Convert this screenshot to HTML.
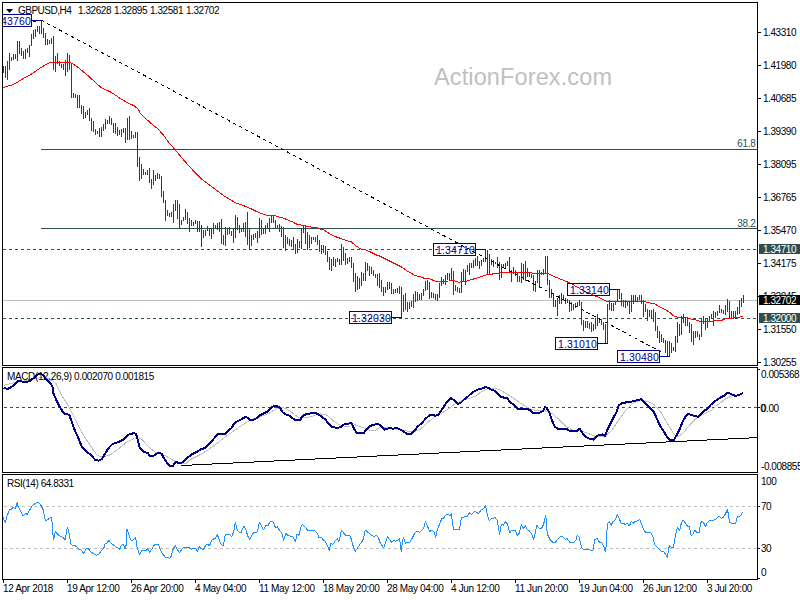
<!DOCTYPE html>
<html><head><meta charset="utf-8"><style>
html,body{margin:0;padding:0;background:#fff;width:800px;height:600px;overflow:hidden}
svg{display:block}
text{font-family:"Liberation Sans",sans-serif}
</style></head><body><svg width="800" height="600" viewBox="0 0 800 600" font-family="Liberation Sans, sans-serif"><text x="434" y="84.6" fill="#c0c0c0" font-size="23.5" letter-spacing="0.12" >ActionForex.com</text><line x1="41" y1="149.5" x2="757" y2="149.5" stroke="#2f4f4f" stroke-width="1"/><line x1="41" y1="228.5" x2="757" y2="228.5" stroke="#2f4f4f" stroke-width="1"/><line x1="3" y1="249.5" x2="757" y2="249.5" stroke="#2f4f4f" stroke-width="1" stroke-dasharray="3,3"/><line x1="3" y1="300.5" x2="757" y2="300.5" stroke="#c0c0c0" stroke-width="1"/><line x1="3" y1="318.5" x2="757" y2="318.5" stroke="#2f4f4f" stroke-width="1" stroke-dasharray="3,3"/><text x="755.5" y="146.8" fill="#2f4f4f" font-size="10" letter-spacing="-0.3" text-anchor="end" >61.8</text><text x="755.5" y="226.8" fill="#2f4f4f" font-size="10" letter-spacing="-0.3" text-anchor="end" >38.2</text><line x1="4" y1="407.5" x2="757" y2="407.5" stroke="#4a4a4a" stroke-width="1" stroke-dasharray="3,3"/><line x1="4" y1="506.5" x2="757" y2="506.5" stroke="#c0c0c0" stroke-width="1" stroke-dasharray="3,3"/><line x1="4" y1="548.5" x2="757" y2="548.5" stroke="#c0c0c0" stroke-width="1" stroke-dasharray="3,3"/><path d="M3.5 66V73M5.5 66V78M7.5 61V80M9.5 53V70M11.5 57V61M13.5 54V60M15.5 54V59M17.5 41V61M19.5 41V54M21.5 48V56M23.5 51V59M25.5 49V59M27.5 48V53M29.5 45V57M31.5 34V46M33.5 30V39M35.5 29V37M37.5 26V32M39.5 26V34M41.5 20V34M43.5 28V38M45.5 33V45M47.5 39V45M49.5 40V44M51.5 38V44M53.5 36V70M55.5 56V72M57.5 53V64M59.5 61V66M61.5 64V68M63.5 64V70M65.5 60V76M67.5 53V72M69.5 55V70M71.5 63V98M73.5 93V98M75.5 94V98M77.5 95V108M79.5 95V108M81.5 105V114M83.5 106V119M85.5 112V118M87.5 110V115M89.5 108V121M91.5 118V131M93.5 121V132M95.5 129V135M97.5 131V134M99.5 128V137M101.5 127V137M103.5 124V131M105.5 119V129M107.5 120V124M109.5 116V124M111.5 118V125M113.5 123V133M115.5 123V134M117.5 127V136M119.5 130V135M121.5 129V137M123.5 128V133M125.5 128V143M127.5 118V140M129.5 116V140M131.5 131V139M133.5 135V138M135.5 132V138M137.5 132V167M139.5 157V181M141.5 164V179M143.5 169V175M145.5 172V175M147.5 170V175M149.5 168V183M151.5 179V189M153.5 170V185M155.5 175V181M157.5 173V179M159.5 174V179M161.5 176V197M163.5 191V203M165.5 200V221M167.5 210V216M169.5 213V217M171.5 212V217M173.5 204V223M175.5 200V211M177.5 200V219M179.5 204V229M181.5 220V225M183.5 217V221M185.5 209V220M187.5 212V224M189.5 218V232M191.5 220V226M193.5 222V226M195.5 220V224M197.5 221V232M199.5 221V232M201.5 225V247M203.5 230V238M205.5 230V236M207.5 226V231M209.5 228V236M211.5 228V239M213.5 223V234M215.5 225V228M217.5 223V230M219.5 222V232M221.5 219V244M223.5 235V245M225.5 227V246M227.5 229V235M229.5 227V234M231.5 231V236M233.5 229V243M235.5 215V238M237.5 217V230M239.5 225V233M241.5 228V232M243.5 223V232M245.5 222V237M247.5 212V245M249.5 229V249M251.5 235V246M253.5 234V240M255.5 233V238M257.5 231V243M259.5 218V238M261.5 220V235M263.5 229V234M265.5 225V234M267.5 223V228M269.5 218V232M271.5 216V223M273.5 216V223M275.5 220V228M277.5 225V228M279.5 224V232M281.5 226V237M283.5 227V248M285.5 235V251M287.5 237V244M289.5 239V246M291.5 240V247M293.5 237V249M295.5 244V254M297.5 239V253M299.5 241V248M301.5 228V249M303.5 226V233M305.5 226V244M307.5 232V250M309.5 235V248M311.5 237V244M313.5 237V240M315.5 237V242M317.5 235V245M319.5 240V252M321.5 245V254M323.5 245V253M325.5 246V255M327.5 251V262M329.5 257V270M331.5 259V271M333.5 257V266M335.5 259V267M337.5 258V262M339.5 259V265M341.5 244V265M343.5 247V261M345.5 253V265M347.5 258V264M349.5 257V262M351.5 257V268M353.5 263V282M355.5 273V292M357.5 276V290M359.5 278V289M361.5 272V286M363.5 273V281M365.5 262V281M367.5 263V271M369.5 266V276M371.5 267V274M373.5 270V276M375.5 274V278M377.5 274V286M379.5 273V288M381.5 280V292M383.5 287V296M385.5 287V293M387.5 282V290M389.5 282V289M391.5 283V294M393.5 289V294M395.5 289V293M397.5 288V293M399.5 286V294M401.5 287V318M403.5 295V312M405.5 293V310M407.5 302V312M409.5 302V309M411.5 301V307M413.5 294V308M415.5 291V302M417.5 292V301M419.5 294V300M421.5 293V300M423.5 289V296M425.5 281V291M427.5 280V290M429.5 282V299M431.5 292V298M433.5 293V298M435.5 294V300M437.5 294V301M439.5 283V298M441.5 277V286M443.5 279V284M445.5 275V285M447.5 273V280M449.5 273V280M451.5 268V280M453.5 271V295M455.5 285V291M457.5 287V292M459.5 288V293M461.5 272V293M463.5 269V282M465.5 270V285M467.5 265V272M469.5 263V275M471.5 263V268M473.5 260V268M475.5 258V266M477.5 256V266M479.5 261V269M481.5 260V266M483.5 258V262M485.5 250V262M487.5 250V275M489.5 254V275M491.5 259V265M493.5 260V267M495.5 262V264M497.5 257V268M499.5 262V280M501.5 264V278M503.5 264V268M505.5 263V268M507.5 261V266M509.5 257V272M511.5 270V282M513.5 267V274M515.5 270V276M517.5 273V282M519.5 276V282M521.5 263V283M523.5 264V280M525.5 261V281M527.5 268V277M529.5 272V277M531.5 274V278M533.5 275V291M535.5 281V292M537.5 270V283M539.5 270V288M541.5 272V275M543.5 269V275M545.5 256V273M547.5 256V285M549.5 280V298M551.5 289V298M553.5 293V307M555.5 300V307M557.5 298V316M559.5 295V304M561.5 293V304M563.5 295V300M565.5 298V304M567.5 299V303M569.5 300V312M571.5 302V311M573.5 304V310M575.5 303V308M577.5 302V307M579.5 300V306M581.5 302V325M583.5 320V331M585.5 321V328M587.5 321V328M589.5 323V329M591.5 322V332M593.5 324V331M595.5 318V329M597.5 314V326M599.5 318V323M601.5 319V325M603.5 322V330M605.5 324V343M607.5 304V343M609.5 300V310M611.5 303V311M613.5 303V311M615.5 302V305M617.5 289V302M619.5 289V299M621.5 293V306M623.5 300V307M625.5 300V308M627.5 302V306M629.5 301V314M631.5 295V312M633.5 295V304M635.5 295V302M637.5 297V301M639.5 295V300M641.5 295V304M643.5 300V317M645.5 304V312M647.5 309V321M649.5 310V317M651.5 310V318M653.5 309V322M655.5 312V331M657.5 326V338M659.5 331V343M661.5 334V342M663.5 338V343M665.5 340V353M667.5 341V356M669.5 341V356M671.5 343V353M673.5 347V351M675.5 336V352M677.5 322V343M679.5 324V336M681.5 316V335M683.5 314V323M685.5 317V326M687.5 318V326M689.5 322V333M691.5 324V342M693.5 331V345M695.5 331V338M697.5 331V337M699.5 334V340M701.5 318V337M703.5 316V324M705.5 318V330M707.5 319V328M709.5 316V322M711.5 314V319M713.5 311V326M715.5 312V318M717.5 311V316M719.5 305V313M721.5 309V313M723.5 310V314M725.5 305V315M727.5 299V312M729.5 301V318M731.5 311V318M733.5 311V318M735.5 311V318M737.5 307V315M739.5 300V314M741.5 298V307M743.5 295V303" stroke="#104668" stroke-width="1" fill="none" shape-rendering="crispEdges"/><polyline points="3.0,87.5 11.7,85.0 17.5,82.1 23.3,78.6 32.7,73.3 40.8,67.5 50.2,62.3 60.0,62.3 70.0,62.3 76.7,66.3 88.7,76.3 95.3,82.3 101.3,87.7 110.0,91.7 115.3,95.0 120.0,98.3 128.0,103.0 134.0,105.7 138.7,109.7 140.0,112.8 149.2,121.9 158.3,129.3 163.9,135.7 168.4,142.1 174.9,149.4 184.0,160.4 193.2,170.6 202.4,179.7 213.4,188.0 224.4,196.2 235.4,202.7 242.8,205.4 246.0,206.5 251.0,208.8 256.0,211.2 261.0,213.3 266.0,215.0 271.0,215.7 274.8,215.7 279.3,217.1 283.0,217.9 287.7,220.0 292.2,221.7 296.0,223.9 302.0,225.2 306.0,226.0 312.0,227.2 317.0,227.5 320.0,229.2 324.0,230.0 330.0,234.0 335.0,236.5 341.0,238.5 346.8,240.8 351.5,242.0 356.2,246.1 362.0,249.6 365.5,249.6 369.0,251.3 376.0,254.8 380.0,256.2 387.0,259.7 394.0,263.2 402.2,267.3 406.8,270.8 415.0,275.4 419.7,276.6 424.3,278.3 429.0,278.5 435.0,281.0 441.0,281.2 449.0,281.0 452.0,280.2 455.0,281.0 459.5,282.5 461.0,281.0 467.0,281.0 472.0,279.5 475.0,278.5 480.0,277.0 485.0,275.2 490.0,274.5 495.0,273.5 500.0,273.0 505.0,272.2 510.0,272.0 515.0,272.0 530.2,272.2 532.5,273.3 547.7,273.3 553.5,276.3 559.3,278.6 565.0,280.9 571.7,283.8 583.3,290.8 592.7,294.8 599.7,297.8 606.7,301.2 610.0,301.8 616.7,301.6 620.2,301.0 626.0,302.0 635.3,301.6 640.0,301.0 644.7,301.6 651.7,303.6 654.7,303.8 659.3,306.7 665.2,309.6 669.8,312.5 674.0,316.2 678.0,317.2 686.2,317.2 690.8,318.9 696.7,320.1 699.1,321.1 712.5,321.1 721.8,320.3 726.5,318.5 735.8,317.9 740.0,317.1 743.0,316.2" fill="none" stroke="#ff0000" stroke-width="1" stroke-linejoin="round" shape-rendering="crispEdges"/><polyline points="3.5,385.4 14.0,382.8 24.5,381.0 35.0,378.4 43.8,377.5 50.8,379.3 56.0,383.6 61.3,395.0 68.3,405.5 73.6,416.0 80.6,430.0 85.8,438.8 92.8,449.3 97.0,455.0 102.0,457.2 110.8,454.6 117.8,449.3 126.5,442.3 137.0,437.0 142.3,439.7 149.3,447.6 156.3,452.8 165.0,455.4 172.0,459.8 179.1,463.3 186.1,463.3 190.0,459.8 198.8,455.4 207.5,450.2 216.3,444.0 225.0,437.0 233.8,430.9 242.5,424.8 251.3,419.5 260.0,416.9 268.8,413.4 275.8,409.0 281.0,407.3 286.0,408.5 292.0,412.5 299.0,417.8 306.0,417.8 313.0,416.0 320.0,413.9 327.0,415.2 334.0,421.3 341.0,425.7 348.0,426.5 355.0,424.8 362.0,427.4 369.0,430.0 376.0,430.0 380.0,427.5 388.8,427.4 397.5,429.2 406.3,430.9 413.3,432.1 420.3,429.2 427.3,423.0 434.3,416.9 441.3,413.4 448.3,409.0 455.3,403.8 462.3,400.3 469.3,398.2 476.3,395.9 480.3,392.4 487.3,388.9 494.3,388.0 501.3,390.6 510.0,395.9 518.8,402.0 527.5,407.6 536.3,410.8 545.0,410.8 552.1,413.4 559.1,419.5 566.1,426.5 573.1,430.4 578.8,430.4 587.5,433.2 596.3,436.7 605.0,436.2 612.0,430.0 619.0,419.5 626.0,409.9 633.0,402.9 640.0,400.6 647.1,401.2 654.1,404.7 661.1,412.5 667.0,423.0 674.0,434.4 677.5,437.0 682.8,433.5 689.8,424.8 696.8,417.8 703.8,414.3 710.8,410.8 717.8,404.7 724.8,399.4 731.8,395.9 737.0,395.4 742.3,394.1" fill="none" stroke="#c0c0c0" stroke-width="1" stroke-linejoin="round" shape-rendering="crispEdges"/><polyline points="3.5,388.0 7.9,388.9 12.3,386.3 15.8,383.6 18.4,381.0 21.0,381.0 23.6,382.4 26.3,381.9 29.8,381.0 33.3,378.4 36.8,375.4 39.4,373.7 42.9,374.9 46.4,379.3 50.8,383.6 52.5,387.1 53.4,393.3 56.0,399.4 59.5,406.4 62.2,410.8 64.8,414.3 69.2,414.6 70.9,419.5 73.6,427.4 77.1,435.3 82.3,447.6 85.8,451.1 89.3,453.7 92.8,457.2 95.4,460.0 98.5,460.7 102.0,459.0 105.5,452.8 109.0,447.6 112.5,444.0 117.8,442.3 121.3,440.6 124.8,438.8 127.4,435.3 130.0,433.9 134.4,433.2 136.2,434.4 137.9,440.6 139.7,447.6 144.0,451.9 147.5,452.8 150.2,456.3 152.8,456.3 156.3,453.7 158.9,452.8 161.5,453.7 165,460 167.5,463.5 170,466 172.5,466.5 175,463 177,461.5 178,463 180,462.5 181.5,462.8 183.5,461.3 187.5,457.5 192.5,454 197.0,451.9 200.5,449.3 204.0,448.4 207.5,445.8 211.0,442.3 214.5,437.9 218.0,433.9 221.5,434.1 224.2,434.4 227.7,430.9 231.2,428.3 234.7,423.0 239.0,420.4 242.5,418.7 245.2,416.9 247.8,417.8 250.4,420.4 253.9,419.5 257.4,417.8 260.0,415.2 263.6,413.4 267.1,411.7 270.6,408.2 274.1,405.9 277.6,406.4 280.2,408.2 282.8,412.5 286.3,414.8 288.5,415.2 292.0,417.8 295.5,420.4 299.9,420.4 302.5,416.0 306.0,414.3 310.4,413.4 314.8,412.9 317.4,413.9 320.9,416.0 325.3,419.5 328.8,423.9 332.3,426.9 336.7,427.9 340.2,427.4 342.8,424.8 347.2,423.9 350.7,423.0 352.4,424.8 354.2,429.2 356.8,432.7 360.3,433.5 363.8,433.2 365.6,430.0 369.1,426.5 373.4,424.8 377.8,423.9 380.2,425.0 382.6,427.4 384.4,429.7 387.0,429.2 388.8,428.0 392.3,428.6 397.5,428.3 399.3,429.2 402.8,430.9 406.3,433.5 411.5,433.5 414.2,430.9 417.7,426.5 422.0,423.0 425.5,418.7 429.0,415.7 431.7,414.6 435.2,415.7 437.8,415.2 440.4,411.7 443.9,406.4 447.4,401.2 450.9,398.2 454.4,400.3 457.9,403.8 460.6,402.9 464.1,399.4 467.6,396.8 471.1,393.6 474.6,391.0 478.5,389.4 482.0,388.4 485.5,387.1 488.1,387.7 490.8,389.4 494.3,390.6 496.9,392.9 500.4,396.8 503.9,397.6 507.4,398.2 510.0,402.0 513.5,404.7 517.0,408.2 519.7,409.4 522.3,408.7 526.7,408.7 530.2,410.4 533.7,413.4 537.2,413.4 540.7,412.2 543.3,410.8 545.0,406.9 546.8,408.2 549.4,412.5 552.1,420.4 554.7,426.5 557.3,428.6 562.6,428.6 566.1,428.6 569.6,430.9 573.5,431.4 577.9,430.4 579.6,428.6 581.4,431.4 584.0,435.3 587.5,437.9 591.0,439.2 593.6,439.7 596.3,436.2 598.9,435.0 602.4,434.4 605.0,435.7 607.7,429.2 611.2,422.2 613.8,416.9 616.4,412.5 618.7,405.5 621.7,403.4 626.0,402.4 630.4,402.0 634.8,400.8 639.2,399.9 640.9,398.9 643.6,401.2 647.1,405.5 650.6,409.0 654.1,412.5 657.6,420.4 660.0,425.7 663.5,430.9 667.0,437.0 670.5,440.2 674.0,439.7 676.6,435.3 679.3,430.0 682.8,421.3 686.3,415.2 688.9,413.9 691.5,415.2 695.0,416.0 698.5,416.9 701.2,413.4 704.7,410.4 707.3,409.0 710.8,404.7 714.3,401.7 717.8,399.4 721.3,397.1 724.8,395.4 727.4,392.9 730.0,393.6 732.7,394.7 735.3,395.9 738.8,395.0 743.2,392.9" fill="none" stroke="#000080" stroke-width="2" stroke-linejoin="round" shape-rendering="crispEdges"/><polyline points="2.9,517.3 5.3,522.7 7.3,515.3 9.3,510.0 11.3,509.1 13.3,507.3 15.3,508.7 17.3,502.7 18.0,506.0 20.0,510.0 23.3,516.0 25.3,513.3 27.3,514.4 29.3,510.7 32.0,506.0 35.3,503.3 38.7,502.4 41.3,506.0 43.3,510.0 45.3,520.0 47.3,520.0 50.0,518.0 51.3,517.3 52.3,524.0 53.3,540.0 54.7,535.3 55.3,531.3 57.3,534.0 60.0,536.0 62.7,537.3 65.3,540.0 67.3,527.3 68.7,530.7 70.7,544.0 72.0,545.3 74.7,545.3 77.0,547.0 79.0,549.3 81.0,550.0 83.7,553.3 85.0,550.7 87.0,548.0 89.0,549.3 91.0,552.0 93.7,553.7 96.3,555.3 98.3,554.7 100.3,552.0 102.3,549.7 103.7,548.7 105.0,544.0 107.0,543.3 109.0,540.0 110.3,542.7 113.0,544.7 115.7,546.7 117.7,548.0 119.7,549.3 121.0,546.0 123.0,544.0 125.0,548.7 126.3,544.7 127.0,529.3 128.3,532.7 130.3,539.3 132.3,540.7 135.7,537.3 137.0,547.3 139.7,554.7 141.7,550.7 145.7,550.7 147.7,548.7 149.7,552.4 152.0,548.7 154.0,545.3 156.7,544.0 158.7,544.7 160.7,550.7 162.7,554.0 165.3,557.3 168.0,557.3 169.7,558.3 171.3,556.0 172.7,550.0 175.3,545.3 177.3,549.3 179.3,552.7 181.3,550.0 184.0,547.3 186.7,547.6 188.7,547.3 191.3,549.3 193.3,548.0 196.0,548.7 197.3,552.0 199.3,546.7 201.3,548.7 203.3,550.0 206.0,544.7 207.3,544.0 209.3,546.0 212.0,540.0 214.0,538.7 215.3,538.7 217.3,534.7 219.3,540.0 221.3,544.7 223.3,546.0 225.3,534.7 227.3,534.0 229.0,534.3 231.7,536.7 233.7,532.0 235.4,522.0 237.0,529.3 239.0,532.0 241.0,532.7 243.7,526.0 245.7,528.7 247.7,536.0 249.7,539.3 251.7,535.3 253.7,532.7 256.3,532.7 257.7,530.7 259.4,522.0 261.0,525.3 263.7,530.0 265.7,525.3 267.7,526.0 270.3,521.3 273.0,522.0 275.7,528.0 277.3,526.7 279.7,530.7 281.7,532.7 283.7,540.4 285.7,533.3 287.7,535.3 290.3,536.0 292.3,536.0 293.7,538.7 295.4,542.0 297.0,534.0 299.0,535.3 300.7,528.0 302.3,524.4 305.3,527.3 307.3,530.0 310.7,530.0 314.0,530.0 316.7,532.7 319.3,538.0 321.3,537.3 323.3,540.0 325.3,541.3 327.3,545.3 329.1,550.3 331.0,542.7 332.7,544.7 335.3,540.7 337.3,538.7 338.9,541.3 340.7,534.0 341.3,530.0 343.3,532.7 346.0,535.3 349.3,535.3 350.7,537.3 352.7,544.7 355.3,551.3 358.0,547.3 360.7,543.3 362.7,540.7 364.0,536.0 365.3,530.0 367.3,532.0 369.3,533.3 371.3,535.3 374.0,536.4 376.7,535.3 378.3,537.3 380.3,543.3 383.7,548.0 385.7,542.0 387.3,536.7 389.4,539.3 391.7,542.3 393.7,540.4 395.7,541.3 397.7,540.0 399.7,538.7 400.6,548.0 401.4,551.3 402.3,542.0 403.3,537.3 405.4,543.1 407.7,542.3 409.9,542.0 412.3,538.0 415.0,532.7 417.7,531.3 419.7,532.4 421.7,530.3 423.7,528.7 425.4,521.3 427.7,526.7 429.7,531.3 432.3,530.3 434.1,532.4 435.7,537.3 437.4,529.3 439.7,524.0 441.7,518.7 443.7,518.0 445.7,515.3 447.7,514.0 449.7,516.0 451.3,513.3 452.7,524.7 453.7,530.0 456.7,529.7 459.3,530.0 461.3,518.0 463.3,517.3 466.0,516.4 467.3,516.4 469.3,512.7 471.3,514.4 474.7,511.3 476.7,512.4 478.7,513.7 481.3,509.3 483.3,508.9 485.3,505.7 486.3,508.7 487.3,515.3 489.3,520.4 492.0,518.3 495.3,517.7 497.3,520.7 498.7,528.7 499.6,534.3 500.7,526.7 501.7,524.0 503.3,525.3 505.3,521.7 507.6,524.0 508.7,528.7 509.7,532.9 511.3,530.3 515.3,530.3 517.3,535.3 519.3,533.3 521.3,524.4 523.3,528.7 525.3,525.5 527.3,529.3 529.7,531.3 531.7,534.0 533.7,539.3 535.4,532.0 537.0,525.3 539.0,528.0 541.7,528.0 543.7,524.0 545.0,518.0 545.7,515.1 546.3,520.7 546.6,529.3 547.9,535.3 550.3,540.0 553.0,542.7 555.7,542.0 558.3,538.3 561.7,536.0 563.7,537.7 565.7,539.6 567.0,538.3 569.7,542.3 573.7,542.3 575.7,540.7 577.3,535.3 579.0,536.7 581.7,548.0 583.7,549.3 588.3,549.3 590.3,550.3 593.0,550.3 594.6,540.0 597.0,538.3 599.7,542.5 602.0,542.7 604.0,546.7 605.3,552.0 606.4,544.7 606.9,531.3 608.0,522.7 609.6,522.0 611.3,525.3 612.7,522.0 615.3,519.6 617.3,514.4 619.3,518.7 621.3,524.0 623.3,523.3 625.3,524.4 627.3,523.3 629.3,526.0 631.3,521.7 633.3,523.1 635.3,521.3 638.0,520.9 639.7,519.3 641.3,523.3 642.7,527.3 645.3,532.0 648.0,532.4 650.7,532.4 652.7,536.0 654.7,544.7 656.7,546.7 658.7,548.7 661.3,551.1 663.3,551.3 665.3,554.0 667.3,557.3 668.7,548.7 669.6,545.3 671.3,547.6 673.3,548.0 674.7,539.3 676.3,531.5 677.7,527.3 679.7,530.7 681.4,522.7 683.3,520.0 685.7,523.3 687.7,526.7 689.4,526.7 691.3,536.0 693.0,534.0 695.0,530.4 697.0,532.3 699.3,532.3 700.6,523.3 701.7,521.3 703.3,522.0 705.4,526.7 707.0,523.3 709.9,520.3 712.3,520.7 714.3,519.7 716.3,518.7 718.7,516.0 721.7,518.4 723.7,516.7 725.7,513.3 727.4,509.3 728.3,514.0 729.4,522.0 731.7,523.3 735.7,523.3 736.6,518.7 738.3,516.0 740.3,516.0 742.3,512.7 743.0,512.0" fill="none" stroke="#1e90ff" stroke-width="1" stroke-linejoin="round" shape-rendering="crispEdges"/><line x1="41" y1="20.1" x2="663" y2="353" stroke="#000" stroke-width="1" stroke-dasharray="3.4,3.4" shape-rendering="crispEdges"/><rect x="33" y="21" width="3" height="1" fill="#000"/><line x1="181" y1="465.53" x2="757" y2="437.6" stroke="#000" stroke-width="1" shape-rendering="crispEdges"/><rect x="2.5" y="2.5" width="755" height="363" fill="none" stroke="#000" stroke-width="1"/><rect x="2.5" y="367.5" width="755" height="105" fill="none" stroke="#000" stroke-width="1"/><rect x="2.5" y="474.5" width="755" height="105" fill="none" stroke="#000" stroke-width="1"/><line x1="758" y1="32.5" x2="761" y2="32.5" stroke="#000" stroke-width="1"/><text x="763" y="36" fill="#000" font-size="10" letter-spacing="-0.45" text-anchor="start" >1.43310</text><line x1="758" y1="65.5" x2="761" y2="65.5" stroke="#000" stroke-width="1"/><text x="763" y="69" fill="#000" font-size="10" letter-spacing="-0.45" text-anchor="start" >1.41980</text><line x1="758" y1="98.5" x2="761" y2="98.5" stroke="#000" stroke-width="1"/><text x="763" y="102" fill="#000" font-size="10" letter-spacing="-0.45" text-anchor="start" >1.40685</text><line x1="758" y1="131.5" x2="761" y2="131.5" stroke="#000" stroke-width="1"/><text x="763" y="135" fill="#000" font-size="10" letter-spacing="-0.45" text-anchor="start" >1.39390</text><line x1="758" y1="164.5" x2="761" y2="164.5" stroke="#000" stroke-width="1"/><text x="763" y="168" fill="#000" font-size="10" letter-spacing="-0.45" text-anchor="start" >1.38095</text><line x1="758" y1="197.5" x2="761" y2="197.5" stroke="#000" stroke-width="1"/><text x="763" y="201" fill="#000" font-size="10" letter-spacing="-0.45" text-anchor="start" >1.36765</text><line x1="758" y1="230.5" x2="761" y2="230.5" stroke="#000" stroke-width="1"/><text x="763" y="234" fill="#000" font-size="10" letter-spacing="-0.45" text-anchor="start" >1.35470</text><line x1="758" y1="263.5" x2="761" y2="263.5" stroke="#000" stroke-width="1"/><text x="763" y="267" fill="#000" font-size="10" letter-spacing="-0.45" text-anchor="start" >1.34175</text><line x1="758" y1="296.5" x2="761" y2="296.5" stroke="#000" stroke-width="1"/><text x="763" y="300" fill="#000" font-size="10" letter-spacing="-0.45" text-anchor="start" >1.32845</text><line x1="758" y1="329.5" x2="761" y2="329.5" stroke="#000" stroke-width="1"/><text x="763" y="333" fill="#000" font-size="10" letter-spacing="-0.45" text-anchor="start" >1.31550</text><line x1="758" y1="362.5" x2="761" y2="362.5" stroke="#000" stroke-width="1"/><text x="763" y="366" fill="#000" font-size="10" letter-spacing="-0.45" text-anchor="start" >1.30255</text><rect x="759" y="244" width="41" height="10" fill="#2f4f4f"/><text x="763" y="253" fill="#fff" font-size="10" letter-spacing="-0.45" text-anchor="start" >1.34710</text><rect x="759" y="295" width="41" height="10" fill="#000"/><text x="763" y="304" fill="#fff" font-size="10" letter-spacing="-0.45" text-anchor="start" >1.32702</text><rect x="759" y="313" width="41" height="10" fill="#2f4f4f"/><text x="763" y="322" fill="#fff" font-size="10" letter-spacing="-0.45" text-anchor="start" >1.32000</text><line x1="758" y1="369.5" x2="760" y2="369.5" stroke="#000" stroke-width="1"/><text x="761" y="378" fill="#000" font-size="10" letter-spacing="-0.45" text-anchor="start" >0.005368</text><line x1="758" y1="407.5" x2="760" y2="407.5" stroke="#000" stroke-width="1"/><text x="761" y="411.6" fill="#000" font-size="10" letter-spacing="-0.45" text-anchor="start" >0.00</text><text x="760.3" y="411.6" fill="#000" font-size="10" letter-spacing="-0.45" text-anchor="start" >0</text><text x="761" y="469.5" fill="#000" font-size="10" letter-spacing="-0.45" text-anchor="start" >-0.008855</text><text x="761" y="485" fill="#000" font-size="10" letter-spacing="-0.45" text-anchor="start" >100</text><line x1="758" y1="506.5" x2="760" y2="506.5" stroke="#000" stroke-width="1"/><text x="761" y="510" fill="#000" font-size="10" letter-spacing="-0.45" text-anchor="start" >70</text><line x1="758" y1="548.5" x2="760" y2="548.5" stroke="#000" stroke-width="1"/><text x="761" y="552" fill="#000" font-size="10" letter-spacing="-0.45" text-anchor="start" >30</text><text x="761" y="576" fill="#000" font-size="10" letter-spacing="-0.45" text-anchor="start" >0</text><line x1="758" y1="578.5" x2="760" y2="578.5" stroke="#000" stroke-width="1"/><line x1="3.5" y1="580" x2="3.5" y2="583" stroke="#000" stroke-width="1"/><text x="3" y="592" fill="#000" font-size="10" letter-spacing="-0.35" text-anchor="start" >12 Apr 2018</text><line x1="67.5" y1="580" x2="67.5" y2="583" stroke="#000" stroke-width="1"/><text x="67" y="592" fill="#000" font-size="10" letter-spacing="-0.35" text-anchor="start" >19 Apr 12:00</text><line x1="131.5" y1="580" x2="131.5" y2="583" stroke="#000" stroke-width="1"/><text x="131" y="592" fill="#000" font-size="10" letter-spacing="-0.35" text-anchor="start" >26 Apr 20:00</text><line x1="195.5" y1="580" x2="195.5" y2="583" stroke="#000" stroke-width="1"/><text x="195" y="592" fill="#000" font-size="10" letter-spacing="-0.35" text-anchor="start" >4 May 04:00</text><line x1="259.5" y1="580" x2="259.5" y2="583" stroke="#000" stroke-width="1"/><text x="259" y="592" fill="#000" font-size="10" letter-spacing="-0.35" text-anchor="start" >11 May 12:00</text><line x1="323.5" y1="580" x2="323.5" y2="583" stroke="#000" stroke-width="1"/><text x="323" y="592" fill="#000" font-size="10" letter-spacing="-0.35" text-anchor="start" >18 May 20:00</text><line x1="387.5" y1="580" x2="387.5" y2="583" stroke="#000" stroke-width="1"/><text x="387" y="592" fill="#000" font-size="10" letter-spacing="-0.35" text-anchor="start" >28 May 04:00</text><line x1="451.5" y1="580" x2="451.5" y2="583" stroke="#000" stroke-width="1"/><text x="451" y="592" fill="#000" font-size="10" letter-spacing="-0.35" text-anchor="start" >4 Jun 12:00</text><line x1="515.5" y1="580" x2="515.5" y2="583" stroke="#000" stroke-width="1"/><text x="515" y="592" fill="#000" font-size="10" letter-spacing="-0.35" text-anchor="start" >11 Jun 20:00</text><line x1="579.5" y1="580" x2="579.5" y2="583" stroke="#000" stroke-width="1"/><text x="579" y="592" fill="#000" font-size="10" letter-spacing="-0.35" text-anchor="start" >19 Jun 04:00</text><line x1="643.5" y1="580" x2="643.5" y2="583" stroke="#000" stroke-width="1"/><text x="643" y="592" fill="#000" font-size="10" letter-spacing="-0.35" text-anchor="start" >26 Jun 12:00</text><line x1="707.5" y1="580" x2="707.5" y2="583" stroke="#000" stroke-width="1"/><text x="707" y="592" fill="#000" font-size="10" letter-spacing="-0.35" text-anchor="start" >3 Jul 20:00</text><path d="M6 9h7l-3.5 4z" fill="#000"/><text x="18" y="14" fill="#000" font-size="10" letter-spacing="-0.5" text-anchor="start" >GBPUSD,H4</text><text x="78" y="14" fill="#000" font-size="10" letter-spacing="-0.45" text-anchor="start" >1.32628</text><text x="114" y="14" fill="#000" font-size="10" letter-spacing="-0.45" text-anchor="start" >1.32895</text><text x="150" y="14" fill="#000" font-size="10" letter-spacing="-0.45" text-anchor="start" >1.32581</text><text x="186" y="14" fill="#000" font-size="10" letter-spacing="-0.45" text-anchor="start" >1.32702</text><text x="7" y="380" fill="#000" font-size="10" letter-spacing="-0.37" text-anchor="start" >MACD(12,26,9) 0.002070 0.001815</text><text x="7" y="487" fill="#000" font-size="10" letter-spacing="-0.45" text-anchor="start" >RSI(14) 64.8331</text><defs><clipPath id="mc"><rect x="3" y="3" width="754" height="362"/></clipPath></defs><g clip-path="url(#mc)"><rect x="-10.5" y="14.5" width="42" height="12" fill="none" stroke="#00008b" stroke-width="1"/><line x1="32" y1="20.5" x2="42" y2="20.5" stroke="#00008b" stroke-width="1"/><text x="-8" y="24.5" fill="#00008b" font-size="10.5" letter-spacing="0.15">1.43760</text></g><g><rect x="433.5" y="243.5" width="42" height="12" fill="none" stroke="#00008b" stroke-width="1"/><line x1="476" y1="249.5" x2="486" y2="249.5" stroke="#00008b" stroke-width="1"/><text x="436" y="253.5" fill="#00008b" font-size="10.5" letter-spacing="0.15">1.34710</text></g><g><rect x="567.5" y="283.5" width="42" height="12" fill="none" stroke="#00008b" stroke-width="1"/><line x1="610" y1="289.5" x2="620" y2="289.5" stroke="#00008b" stroke-width="1"/><text x="570" y="293.5" fill="#00008b" font-size="10.5" letter-spacing="0.15">1.33140</text></g><g><rect x="349.5" y="311.5" width="42" height="12" fill="none" stroke="#00008b" stroke-width="1"/><line x1="392" y1="317.5" x2="402" y2="317.5" stroke="#00008b" stroke-width="1"/><text x="352" y="321.5" fill="#00008b" font-size="10.5" letter-spacing="0.15">1.32030</text></g><g><rect x="555.5" y="337.5" width="42" height="12" fill="none" stroke="#00008b" stroke-width="1"/><line x1="598" y1="343.5" x2="608" y2="343.5" stroke="#00008b" stroke-width="1"/><text x="558" y="347.5" fill="#00008b" font-size="10.5" letter-spacing="0.15">1.31010</text></g><g><rect x="617.5" y="350.5" width="42" height="12" fill="none" stroke="#00008b" stroke-width="1"/><line x1="660" y1="356.5" x2="670" y2="356.5" stroke="#00008b" stroke-width="1"/><text x="620" y="360.5" fill="#00008b" font-size="10.5" letter-spacing="0.15">1.30480</text></g></svg></body></html>
